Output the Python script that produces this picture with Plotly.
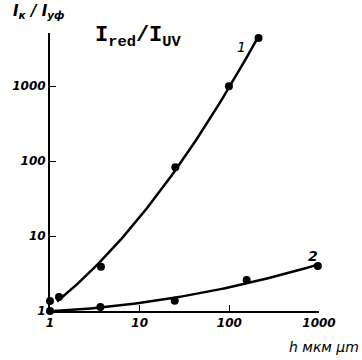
import numpy as np
import plotly.graph_objects as go

# Data
h1 = [1.0, 1.26, 3.7, 25, 99, 212]
r1 = [1.36, 1.54, 3.9, 83, 1000, 4400]
h2 = [1.0, 3.65, 24.6, 156, 970]
r2 = [1.0, 1.13, 1.37, 2.6, 4.0]
tick_vals = [1, 10, 100, 1000]
tick_text = ["1", "10", "100", "1000"]

# smooth fit curves (quadratic in log-log space) derived from the data
def fit(x, y, x0, x1):
    lx, ly = np.log10(x), np.log10(y)
    c = np.polyfit(lx, ly, 2)
    xs = np.linspace(np.log10(x0), np.log10(x1), 120)
    return 10 ** xs, 10 ** np.polyval(c, xs)

f1x, f1y = fit(h1[1:], r1[1:], 1.2, 215)
f2x, f2y = fit(h2, r2, 1.0, 1000)

fig = go.Figure()
fig.add_trace(go.Scatter(x=f1x, y=f1y, mode="lines", line=dict(color="black", width=2.5),
                         cliponaxis=False, hoverinfo="skip"))
fig.add_trace(go.Scatter(x=f2x, y=f2y, mode="lines", line=dict(color="black", width=2.5),
                         cliponaxis=False, hoverinfo="skip"))
fig.add_trace(go.Scatter(x=h1, y=r1, mode="markers", marker=dict(color="black", size=8),
                         cliponaxis=False))
fig.add_trace(go.Scatter(x=h2, y=r2, mode="markers", marker=dict(color="black", size=8),
                         cliponaxis=False))

lab_font = dict(family="DejaVu Sans", size=12, color="black", style="italic", weight="bold")

fig.update_layout(
    width=362, height=360,
    margin=dict(l=47, r=43, t=33, b=49),
    paper_bgcolor="white", plot_bgcolor="white",
    showlegend=False,
    xaxis=dict(type="log", range=[0, 3], tickvals=tick_vals, ticktext=tick_text,
               ticks="inside", ticklen=6, tickcolor="black", tickwidth=1,
               showgrid=False, zeroline=False, showline=True, linecolor="black", linewidth=1.5,
               tickfont=lab_font),
    yaxis=dict(type="log", range=[0, 3.71], tickvals=tick_vals, ticktext=tick_text,
               ticks="inside", ticklen=6, tickcolor="black", tickwidth=1,
               showgrid=False, zeroline=False, showline=True, linecolor="black", linewidth=2,
               tickfont=lab_font),
)

fig.add_annotation(xref="paper", yref="paper", x=0.16, y=0.985, xanchor="left", yanchor="middle",
                   text="I<sub>red</sub>/I<sub>UV</sub>",
                   showarrow=False,
                   font=dict(family="Liberation Mono", size=22, color="black", weight="bold"))
fig.add_annotation(xref="paper", yref="paper", x=-0.145, y=1.035, xanchor="left", yanchor="bottom",
                   text="I<sub>к</sub> / I<sub>уф</sub>", showarrow=False,
                   font=dict(family="DejaVu Sans", size=15, color="black", style="italic", weight="bold"))
fig.add_annotation(xref="paper", yref="paper", x=1.155, y=-0.095, xanchor="right", yanchor="top",
                   text="h мкм μm", showarrow=False,
                   font=dict(family="DejaVu Sans", size=14, color="black", style="italic"))
fig.add_annotation(xref="x", yref="y", x=np.log10(135), y=np.log10(3300), text="1", showarrow=False,
                   font=dict(family="DejaVu Sans", size=14, color="black", style="italic"))
fig.add_annotation(xref="x", yref="y", x=np.log10(850), y=np.log10(5.5), text="2", showarrow=False,
                   font=dict(family="DejaVu Sans", size=14, color="black", style="italic", weight="bold"))

fig.write_html("out.html")
